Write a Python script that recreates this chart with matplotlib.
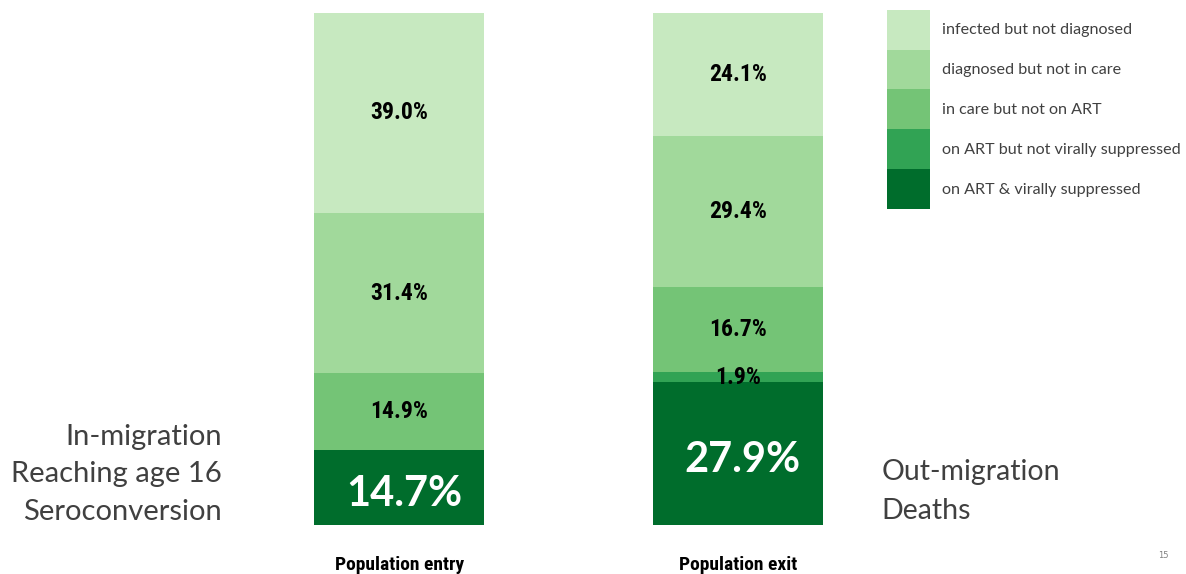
import matplotlib
matplotlib.use('Agg')
import matplotlib.pyplot as plt
import numpy as np
from matplotlib.patches import Patch

#--------------------------------------------------#
bars = ['Population entry', 'Population exit']
states = ['on ART & virally suppressed', 'on ART but not virally suppressed',
          'in care but not on ART', 'diagnosed but not in care', 'infected but not diagnosed']
entry = [14.7, 0.0, 14.9, 31.4, 39.0]   # bottom -> top
exit_ = [27.9, 1.9, 16.7, 29.4, 24.1]
colors = ['#006d2c', '#31a354', '#74c476', '#a1d99b', '#c7e9c0']
left_text = ['In-migration', 'Reaching age 16', 'Seroconversion']
right_text = ['Out-migration', 'Deaths']
page = '15'
#--------------------------------------------------#

cond = ['Roboto Condensed', 'Open Sans Condensed', 'Liberation Sans Narrow', 'Roboto']
gothic = 'Lato'

fig = plt.figure(figsize=(11.86, 5.74), dpi=100)
ax = fig.add_axes([0.194, 0.0854, 0.571, 0.8920])
x = np.arange(len(bars))
data = np.array([entry, exit_])
bottom = np.zeros(len(bars))
for k in range(len(states)):
    ax.bar(x, data[:, k], 0.502, bottom=bottom, color=colors[k], linewidth=0)
    for i in range(len(bars)):
        v = data[i, k]
        if v <= 0:
            continue
        yc = bottom[i] + v / 2
        if k == 0:
            ax.text(x[i] + 0.014, yc - 1.3, '{:.1f}%'.format(v), ha='center', va='center', color='white',
                    fontsize=30, fontfamily=gothic, fontweight='bold')
        else:
            ax.text(x[i], yc, '{:.1f}%'.format(v), ha='center', va='center', color='black',
                    fontsize=17, fontfamily=cond, fontweight='bold')
    bottom += data[:, k]
ax.set_xlim(-0.5, 1.5)
ax.set_ylim(0, 100)
ax.axis('off')

for i, b in enumerate(bars):
    ax.text(x[i], -7.9, b, ha='center', va='center', fontsize=14, fontfamily=cond, fontweight='bold',
            color='black')

for j, t in enumerate(left_text):
    fig.text(0.187, 0.2385 - j * 0.065, t, ha='right', va='center', fontsize=21, fontfamily=gothic,
             color='#404040')
for j, t in enumerate(right_text):
    fig.text(0.743, 0.178 - j * 0.069, t, ha='left', va='center', fontsize=20.5, fontfamily=gothic,
             color='#404040')

handles = [Patch(facecolor=c, edgecolor='none') for c in colors[::-1]]
leg = fig.legend(handles, states[::-1], loc='upper left', bbox_to_anchor=(0.748, 0.983),
                 frameon=False, handlelength=2.67, handleheight=3.43, labelspacing=0,
                 handletextpad=0.75, borderpad=0, borderaxespad=0,
                 prop={'family': gothic, 'size': 11.6})
for t in leg.get_texts():
    t.set_color('#404040')

fig.text(0.981, 0.032, page, ha='center', va='center', fontsize=6, color='#808080')

fig.savefig('out.png', dpi=100)
